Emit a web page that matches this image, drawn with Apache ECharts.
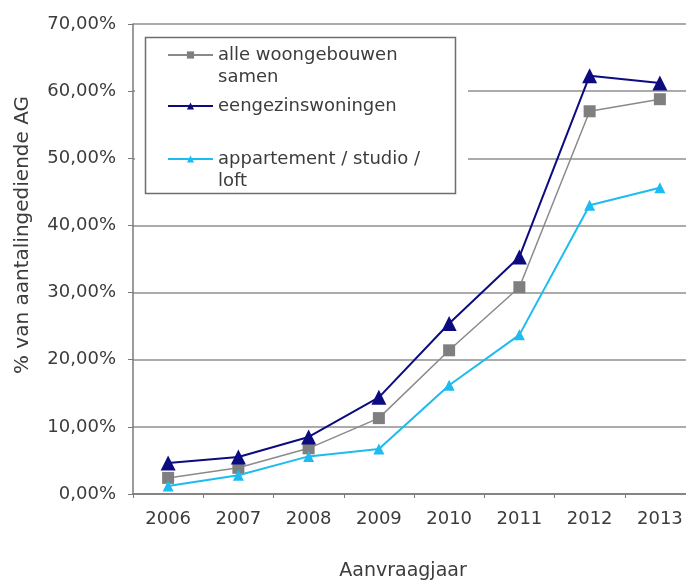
<!DOCTYPE html>
<html>
<head>
<meta charset="utf-8">
<style>
  html, body { margin: 0; padding: 0; background: #ffffff; }
  #chart { width: 686px; height: 581px; }
</style>
<script src="https://cdn.jsdelivr.net/npm/echarts@6/dist/echarts.min.js"></script>
</head>
<body>
<div id="chart"></div>
<script>
// Share of submitted applications (AG) per application year, by building type
const years = ['2006', '2007', '2008', '2009', '2010', '2011', '2012', '2013'];
const alleWoongebouwen = [2.4, 3.9, 6.8, 11.3, 21.4, 30.8, 57.0, 58.8];
const eengezinswoningen = [4.6, 5.5, 8.5, 14.4, 25.4, 35.3, 62.3, 61.2];
const appartementen = [1.2, 2.8, 5.6, 6.7, 16.2, 23.7, 43.0, 45.6];
const seriesNames = ['alle woongebouwen samen', 'eengezinswoningen', 'appartement / studio / loft'];
const yTicks = { min: 0, max: 70, interval: 10 };

const FONT = 'DejaVu Sans';
const TEXT = '#3c3c3c';
const GRID = '#8f8f8f';
const LEGEND_LINE = 22;

const chart = echarts.init(document.getElementById('chart'), null, { renderer: 'canvas' });

// One legend block per entry; a blank leading line keeps the marker level
// with the first line of a two-line label
function legendAt(name, top, label, twoLines) {
  return {
    data: [name],
    orient: 'vertical',
    left: 167,
    top: top,
    padding: 0,
    itemWidth: 45,
    itemHeight: 9,
    selectedMode: false,
    formatter: function () { return twoLines ? '\n' + label : label; },
    textStyle: {
      fontFamily: FONT, fontSize: 18, color: TEXT, lineHeight: LEGEND_LINE
    },
    z: 10
  };
}

chart.setOption({
  animation: false,
  backgroundColor: '#ffffff',
  grid: {
    left: 133, right: -9, top: 24, bottom: 87,
    containLabel: false, outerBoundsMode: 'none'
  },
  legend: [
    legendAt(seriesNames[0], 22, 'alle woongebouwen\nsamen', true),
    legendAt(seriesNames[1], 95, 'eengezinswoningen', false),
    legendAt(seriesNames[2], 126, 'appartement / studio /\nloft', true)
  ],
  graphic: [
    {
      type: 'rect', z: 5,
      shape: { x: 135, y: 25.5, width: 333, height: 176 },
      style: { fill: '#ffffff', stroke: null }
    },
    {
      type: 'rect', z: 6,
      shape: { x: 145.5, y: 37.5, width: 310, height: 156 },
      style: { fill: '#ffffff', stroke: '#6e6e6e', lineWidth: 1.5 }
    }
  ],
  xAxis: {
    type: 'category',
    data: years,
    boundaryGap: true,
    name: 'Aanvraagjaar',
    nameLocation: 'middle',
    nameGap: 68,
    nameTextStyle: { fontFamily: FONT, fontSize: 19, color: TEXT, padding: [0, 22, 0, 0] },
    axisLine: { lineStyle: { color: '#7a7a7a', width: 1.5 } },
    axisTick: { show: true, inside: false, length: 4, lineStyle: { color: '#7a7a7a' } },
    axisLabel: { fontFamily: FONT, fontSize: 18, color: TEXT, margin: 16 },
    splitLine: { show: false }
  },
  yAxis: {
    type: 'value',
    min: yTicks.min,
    max: yTicks.max,
    interval: yTicks.interval,
    name: '% van aantalingediende AG',
    nameLocation: 'middle',
    nameGap: 100,
    nameTextStyle: { fontFamily: FONT, fontSize: 20, color: TEXT, padding: [0, 0, 0, 48] },
    axisLine: { show: true, lineStyle: { color: '#7a7a7a', width: 1.5 } },
    axisTick: { show: true, inside: false, length: 5, lineStyle: { color: '#7a7a7a' } },
    axisLabel: {
      fontFamily: FONT, fontSize: 18, color: TEXT, margin: 17,
      formatter: function (v) { return v.toFixed(2).replace('.', ',') + '%'; }
    },
    splitLine: { show: true, lineStyle: { color: GRID, width: 1.5 } }
  },
  series: [
    {
      name: seriesNames[0], type: 'line', data: alleWoongebouwen,
      symbol: 'rect', symbolSize: 12, showSymbol: true,
      lineStyle: { color: '#8a8a8a', width: 1.5 },
      itemStyle: { color: '#7f7f7f' }, z: 3
    },
    {
      name: seriesNames[1], type: 'line', data: eengezinswoningen,
      symbol: 'triangle', symbolSize: 15, showSymbol: true,
      lineStyle: { color: '#0c0c80', width: 2 },
      itemStyle: { color: '#0c0c80' }, z: 4
    },
    {
      name: seriesNames[2], type: 'line', data: appartementen,
      symbol: 'triangle', symbolSize: 11, showSymbol: true,
      lineStyle: { color: '#1cbcf0', width: 2 },
      itemStyle: { color: '#1cbcf0' }, z: 5
    }
  ]
});
</script>
</body>
</html>
